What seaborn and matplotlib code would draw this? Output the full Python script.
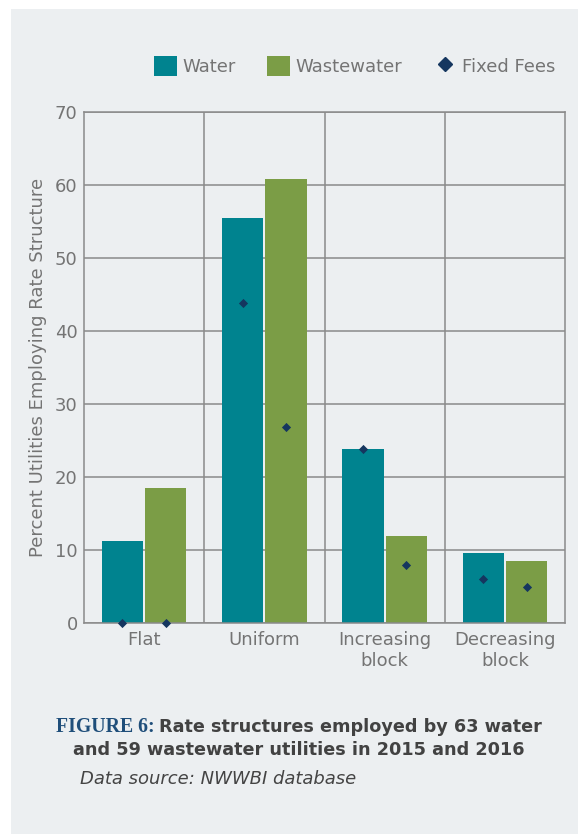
import numpy as np
import pandas as pd
import seaborn as sns
import matplotlib.pyplot as plt
from matplotlib.patches import Patch, Rectangle
from matplotlib.lines import Line2D

# values
categories = ["Flat", "Uniform", "Increasing\nblock", "Decreasing\nblock"]
water = [11.2, 55.5, 23.8, 9.6]
wastewater = [18.5, 60.8, 11.9, 8.5]
fees_water = [0.0, 43.9, 23.8, 6.0]
fees_wastewater = [0.0, 26.9, 7.9, 5.0]
series_names = ["Water", "Wastewater"]

TEAL = "#00838F"
GREEN = "#7B9D46"
NAVY = "#15365F"
PANEL = "#ECEFF1"
GRID = "#8A8A8A"
TXT = "#747474"

W, H = 578, 834

sns.set_style("white")
plt.rcParams["font.family"] = ["DejaVu Sans"]

df = pd.DataFrame({
    "category": categories * 2,
    "type": [series_names[0]] * len(categories) + [series_names[1]] * len(categories),
    "percent": water + wastewater,
})

fig = plt.figure(figsize=(W / 100, H / 100), dpi=100, facecolor="white")
fig.patches.append(Rectangle((11 / W, 0), 1, 1 - 9 / H, transform=fig.transFigure,
                             facecolor=PANEL, edgecolor="none", zorder=-1))

ax = fig.add_axes([84 / W, 1 - 623 / H, (565 - 84) / W, (623 - 112) / H])
ax.set_facecolor(PANEL)

sns.barplot(data=df, x="category", y="percent", hue="type", palette=[TEAL, GREEN],
            width=0.72, gap=0.05, saturation=1, legend=False, ax=ax, zorder=2,
            linewidth=0, edgecolor="none")

# fixed fee diamonds sit on the bar centres
pos = np.arange(len(categories))
fee_x = np.concatenate([pos - 0.18, pos + 0.18])
fee_y = np.array(fees_water + fees_wastewater)
sns.scatterplot(x=fee_x, y=fee_y, marker="D", s=22, color=NAVY, linewidth=0,
                ax=ax, zorder=4, legend=False, clip_on=False)

ax.set_xlim(-0.5, len(categories) - 0.5)
ax.set_ylim(0, 70)
ax.set_yticks(range(0, 71, 10))
ax.set_xticks(np.arange(0.5, len(categories) - 0.5), minor=True)
ax.grid(axis="y", which="major", color=GRID, linewidth=1.1, zorder=0)
ax.grid(axis="x", which="minor", color=GRID, linewidth=1.1, zorder=0)
ax.set_axisbelow(True)
for s in ax.spines.values():
    s.set_visible(True)
    s.set_color(GRID)
    s.set_linewidth(1.1)
ax.tick_params(axis="both", which="both", length=0, labelsize=13, labelcolor=TXT)
ax.tick_params(axis="y", pad=4.5)
ax.tick_params(axis="x", pad=6)
ax.set_xlabel("")
ax.set_ylabel("Percent Utilities Employing Rate Structure", fontsize=13, color=TXT, labelpad=6)

handles = [
    Patch(facecolor=TEAL, edgecolor="none"),
    Patch(facecolor=GREEN, edgecolor="none"),
    Line2D([], [], marker="D", color=NAVY, linestyle="", markersize=7.5),
]
fig.legend(handles, ["Water", "Wastewater", "Fixed Fees"], loc="center",
           bbox_to_anchor=(354.5 / W, 1 - 66 / H), ncol=3, frameon=False, fontsize=13,
           labelcolor=TXT, handlelength=1.28, handleheight=1.28, handletextpad=0.28,
           columnspacing=1.75)

# caption
fig.text(56 / W, 1 - 727 / H, "FIGURE 6:", family=["Liberation Serif"], fontweight="bold",
         fontsize=14.2, color="#1F4E7A", ha="left", va="center")
fig.text(159 / W, 1 - 727 / H, "Rate structures employed by 63 water", fontweight="bold",
         fontsize=12.7, color="#424242", ha="left", va="center")
fig.text(299 / W, 1 - 750 / H, "and 59 wastewater utilities in 2015 and 2016", fontweight="bold",
         fontsize=12.7, color="#424242", ha="center", va="center")
fig.text(80 / W, 1 - 779 / H, "Data source: NWWBI database", style="italic",
         fontsize=13, color="#444444", ha="left", va="center")

fig.savefig("out.png", dpi=100, facecolor="white")
